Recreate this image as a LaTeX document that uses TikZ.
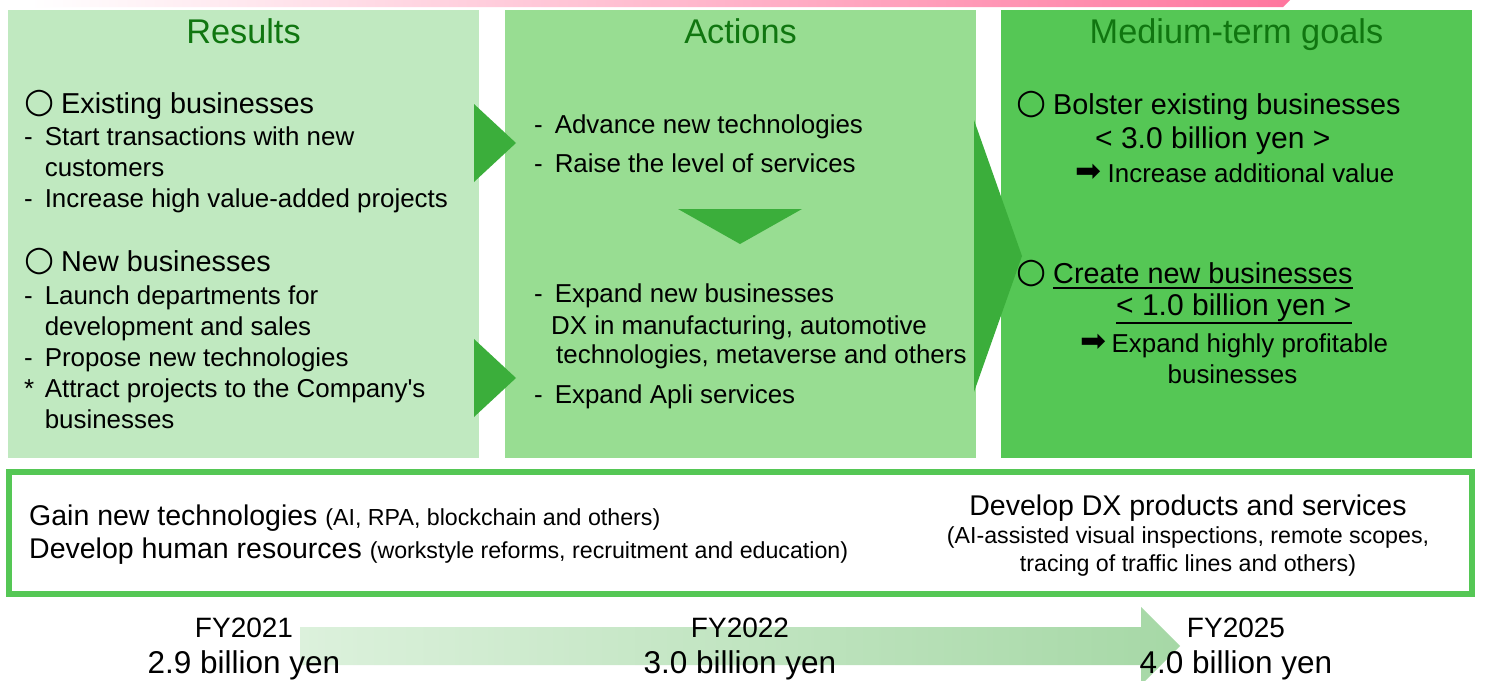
\documentclass[tikz,border=0pt]{standalone}
\usepackage{fontspec}
\setmainfont{Liberation Sans}
\newfontfamily\symfont{DejaVu Sans}
\usetikzlibrary{positioning,calc}
\newcommand{\fs}[2]{\fontsize{#1}{#2}\selectfont}
\newcommand{\bul}[1]{\makebox[20.6pt][l]{#1}}

\definecolor{resultsgreen}{RGB}{192,233,192}
\definecolor{actionsgreen}{RGB}{152,221,146}
\definecolor{goalsgreen}{RGB}{85,199,85}
\definecolor{arrowgreen}{RGB}{59,174,59}
\definecolor{titlegreen}{RGB}{16,118,16}
\definecolor{bandpink}{RGB}{255,118,158}
\definecolor{planlight}{RGB}{220,241,220}
\definecolor{plandark}{RGB}{166,216,166}

\begin{document}
\begin{tikzpicture}
[
    x=1pt, y=-1pt,
    every node/.style = {inner sep=0pt},
]

\tikzstyle{panel}=[rectangle, anchor=north west, minimum width=471, minimum height=448]
\tikzstyle{title}=[anchor=base, text=titlegreen, font=\fs{34.3}{40}]
\tikzstyle{head}=[anchor=base west, font=\fs{28.8}{34}]
\tikzstyle{list}=[anchor=base west, font=\fs{25.9}{31}]
\tikzstyle{ring}=[font=\symfont\fs{34.5}{34}]
\tikzstyle{pointer}=[font=\symfont\fs{31}{31}]
\tikzstyle{billion}=[anchor=base west, font=\fs{30}{36}]
\tikzstyle{year}=[anchor=base, font=\fs{28}{36}]

\fill[white] (0,0) rectangle (1485,680);
\useasboundingbox (0,0) rectangle (1485,680);

% band along the top
\shade[left color=white, right color=bandpink] (30,0) -- (1290,0) -- (1283,7) -- (30,7) -- cycle;

% the three columns
\node[panel, fill=resultsgreen] (results) at (8,10) {};
\node[panel, fill=actionsgreen] (actions) at (505,10) {};
\node[panel, fill=goalsgreen] (goals) at (1001,10) {};

\node[title] (restitle) at (243.5,43) {Results};
\node[title] (acttitle) at (740.5,43) {Actions};
\node[title] (goaltitle) at (1236.5,43) {Medium-term goals};

% Results
\node[ring] (c1) at (39.5,103.5) {○};
\node[head] (exist) at (61,113) {Existing businesses};
\node[list] (existlist) at (24,145) {\begin{tabular}[t]{@{}l@{}l@{}}
\bul{-}&Start transactions with new\\
\bul{}&customers\\
\bul{-}&Increase high value-added projects
\end{tabular}};
\node[ring] (c2) at (39.5,261.5) {○};
\node[head] (new) at (61,271) {New businesses};
\node[list] (newlist) at (24,304) {\begin{tabular}[t]{@{}l@{}l@{}}
\bul{-}&Launch departments for\\
\bul{}&development and sales\\
\bul{-}&Propose new technologies\\
\bul{*}&Attract projects to the Company\textquotesingle s\\
\bul{}&businesses
\end{tabular}};

% Actions
\node[list] (advance) at (534,133) {\bul{-}Advance new technologies};
\node[list] (raise) at (534,172) {\bul{-}Raise the level of services};
\node[list] (expand) at (534,302) {\bul{-}Expand new businesses};
\node[list, font=\fs{25.9}{29}] (dx) at (551,334) {\begin{tabular}[t]{@{}l@{}}
DX in manufacturing, automotive\\
\hspace{5pt}technologies, metaverse and others
\end{tabular}};
\node[list] (apli) at (534,403) {\bul{-}Expand Apli services};

% Medium-term goals
\node[ring] (c3) at (1031.5,105) {○};
\node[head] (bolster) at (1053,114) {Bolster existing businesses};
\node[billion] (target1) at (1095,148) {< 3.0 billion yen >};
\node[pointer] (p1) at (1088.5,173) {➡};
\node[list] (addvalue) at (1107.5,182) {Increase additional value};
\node[ring] (c4) at (1032,274) {○};
\node[head] (create) at (1053,283) {Create new businesses};
\node[billion] (target2) at (1116,315) {< 1.0 billion yen >};
\node[pointer] (p2) at (1093.5,343) {➡};
\node[list] (profit) at (1111.5,352) {Expand highly profitable};
\node[list, anchor=base] (profit2) at (1232.5,383) {businesses};
\draw[line width=2] ([yshift=-5]create.base west) -- ([yshift=-5]create.base east);
\draw[line width=2] ([yshift=-8]target2.base west) -- ([yshift=-8]target2.base east);

% arrows between the columns
\fill[arrowgreen] (474,104) -- (516,143) -- (474,182) -- cycle;
\fill[arrowgreen] (474,339) -- (516,378) -- (474,417) -- cycle;
\fill[arrowgreen] (678,209) -- (802,209) -- (740,244) -- cycle;
\fill[arrowgreen] (974,120) -- (1022,256) -- (974,392) -- cycle;

% foundation box
\draw[goalsgreen, line width=6] (9,472) rectangle (1472,594);
\node[anchor=base west, font=\fs{28.5}{33}] (gain) at (29,525) {\begin{tabular}[t]{@{}l@{}}
Gain new technologies {\fs{23.2}{33}(AI, RPA, blockchain and others)}\\
Develop human resources {\fs{23.2}{33}(workstyle reforms, recruitment and education)}
\end{tabular}};
\node[anchor=base, font=\fs{28.5}{28}] (dxprod) at (1188,515) {\begin{tabular}[t]{@{}c@{}}
Develop DX products and services\\
{\fs{23.2}{28}(AI-assisted visual inspections, remote scopes,}\\
{\fs{23.2}{28}tracing of traffic lines and others)}
\end{tabular}};

% sales plan
\shade[left color=planlight, right color=plandark] (300,627) -- (1141,627) -- (1141,607) -- (1180,646) -- (1141,685) -- (1141,665) -- (300,665) -- cycle;
\node[year] (fy21) at (244,637) {\begin{tabular}[t]{@{}c@{}}FY2021\\{\fs{31.5}{37}2.9 billion yen}\end{tabular}};
\node[year] (fy22) at (740,637) {\begin{tabular}[t]{@{}c@{}}FY2022\\{\fs{31.5}{37}3.0 billion yen}\end{tabular}};
\node[year] (fy25) at (1236,637) {\begin{tabular}[t]{@{}c@{}}FY2025\\{\fs{31.5}{37}4.0 billion yen}\end{tabular}};
\end{tikzpicture}
\end{document}
